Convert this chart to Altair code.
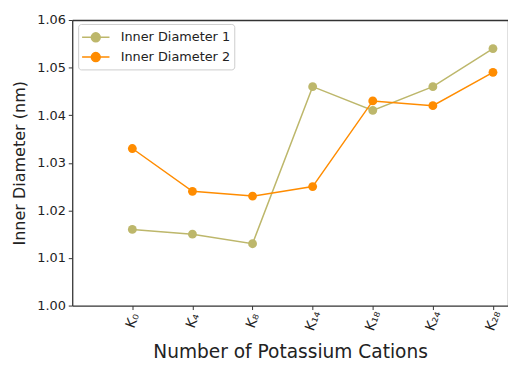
import altair as alt
import pandas as pd

categories = ["K₀", "K₄", "K₈", "K₁₄", "K₁₈", "K₂₄", "K₂₈"]
series_names = ["Inner Diameter 1", "Inner Diameter 2"]
diam1 = [1.016, 1.015, 1.013, 1.046, 1.041, 1.046, 1.054]
diam2 = [1.033, 1.024, 1.023, 1.025, 1.043, 1.042, 1.049]
colors = ["#BDB76B", "#FF8C00"]

rows = []
for i, c in enumerate(categories):
    rows.append({"idx": i, "cat": c, "series": series_names[0], "value": diam1[i]})
    rows.append({"idx": i, "cat": c, "series": series_names[1], "value": diam2[i]})
df = pd.DataFrame(rows)

label_expr = "[" + ",".join("'" + c + "'" for c in categories) + "][datum.value]"
xscale = alt.Scale(domain=[-1, 6.25], nice=False, zero=False)
yscale = alt.Scale(domain=[1.0, 1.06], nice=False, zero=False)

x = alt.X("idx:Q", scale=xscale,
          axis=alt.Axis(values=list(range(len(categories))), labelExpr=label_expr,
                        title="Number of Potassium Cations", labelAngle=290,
                        labelAlign="center", labelBaseline="middle", labelFontSize=14,
                        titleFontSize=18.8, titleFontWeight="normal", labelPadding=11,
                        titlePadding=11, grid=False, tickSize=4, domainColor="#333",
                        domainWidth=1.3, tickColor="#333", labelColor="#222",
                        titleColor="#222"))
y = alt.Y("value:Q", scale=yscale,
          axis=alt.Axis(values=[1.0, 1.01, 1.02, 1.03, 1.04, 1.05, 1.06], format=".2f",
                        title="Inner Diameter (nm)", labelFontSize=13, titleFontSize=16.2,
                        titleFontWeight="normal", grid=False, tickSize=4, labelPadding=3,
                        titlePadding=9, domainColor="#333", domainWidth=1.3,
                        tickColor="#333", labelColor="#222", titleColor="#222"))
x_top = alt.X("idx:Q", scale=xscale,
              axis=alt.Axis(orient="top", labels=False, ticks=False, title=None,
                            grid=False, domainColor="#333", domainWidth=1.3))
y_right = alt.Y("value:Q", scale=yscale,
                axis=alt.Axis(orient="right", labels=False, ticks=False, title=None,
                              grid=False, domainColor="#333", domainWidth=1.3))
legend_symbol = ("M-1.1,0H2.1M-0.02,0A0.52,0.52,0,1,1,1.02,0"
                 "A0.52,0.52,0,1,1,-0.02,0Z")
color = alt.Color("series:N", scale=alt.Scale(domain=series_names, range=colors),
                  legend=alt.Legend(title=None, orient="none", legendX=6, legendY=4,
                                    symbolType=legend_symbol,
                                    symbolSize=300, symbolStrokeWidth=1.5,
                                    labelFontSize=13, labelColor="#222",
                                    fillColor="white", strokeColor="#ccc",
                                    padding=4, cornerRadius=3, rowPadding=2,
                                    labelOffset=20))

base = alt.Chart(df)
lines = base.mark_line(strokeWidth=1.5).encode(x=x, y=y, color=color, detail="series:N")
points = base.mark_point(filled=True, size=80, opacity=1).encode(x=x_top, y=y_right, color=color)

chart = alt.layer(lines, points).resolve_axis(x="independent", y="independent").properties(
    width=441, height=289,
    autosize=alt.AutoSizeParams(type="none"),
    padding={"left": 65, "top": 10, "right": 0, "bottom": 60},
).configure(font="DejaVu Sans", view=alt.ViewConfig(stroke=None))

chart.save("out.html", embed_options={"renderer": "svg", "actions": False})
